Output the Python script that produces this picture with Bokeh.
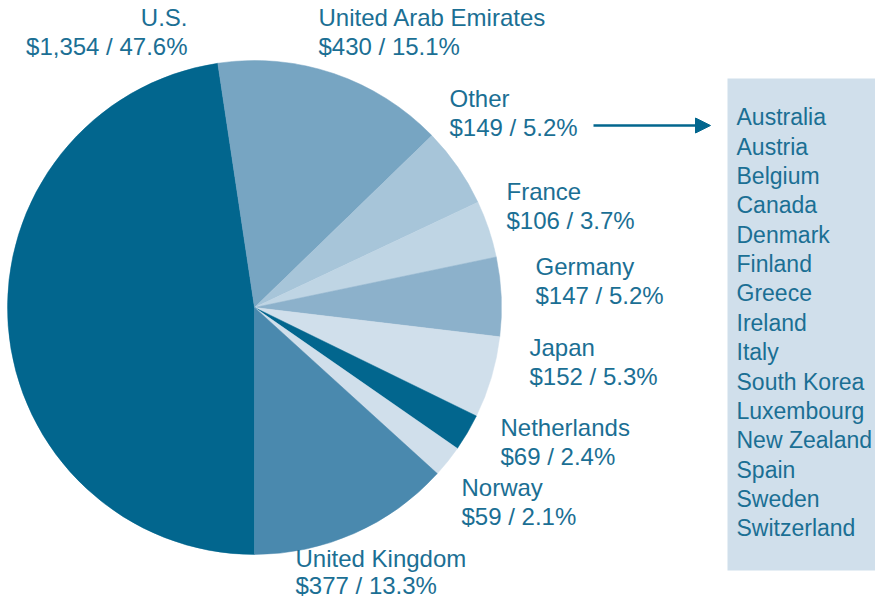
from bokeh.plotting import figure
from bokeh.models import Range1d, ColumnDataSource, Arrow, NormalHead
from bokeh.core.properties import value
from bokeh.embed import file_html
from bokeh.resources import INLINE
import math

# ---- data ----
countries = ["U.S.", "United Arab Emirates", "Other", "France", "Germany",
             "Japan", "Netherlands", "Norway", "United Kingdom"]
amounts = [1354, 430, 149, 106, 147, 152, 69, 59, 377]
percents = [47.6, 15.1, 5.2, 3.7, 5.2, 5.3, 2.4, 2.1, 13.3]
other_countries = ["Australia", "Austria", "Belgium", "Canada", "Denmark",
                   "Finland", "Greece", "Ireland", "Italy", "South Korea",
                   "Luxembourg", "New Zealand", "Spain", "Sweden", "Switzerland"]

# ---- style ----
slice_colors = ["#02668e", "#77a5c2", "#a7c5d9", "#bfd5e4", "#8cb1cb",
                "#d0dfeb", "#02668e", "#d0dfeb", "#4a89ae"]
TEXT_COLOR = "#1b6f94"
FONT = "Liberation Sans"
FS = "24px"
FS_LIST = "23px"

W, H = 875, 600
SHIFT_Y = 2      # content moved up a little so it fits the 600px height
TEXT_CORR = 8.5  # observed baseline offset of the svg text renderer

def Y(py):   # reference pixel row -> data y
    return H - (py - SHIFT_Y)

def TY(py):  # baseline row for text
    return Y(py - TEXT_CORR)

p = figure(width=W, height=H, output_backend="svg", toolbar_location=None,
           x_range=Range1d(0, W), y_range=Range1d(0, H),
           min_border=0, outline_line_color=None)
p.axis.visible = False
p.grid.visible = False
p.background_fill_color = "white"
p.border_fill_color = "white"

# ---- pie ----
total = sum(amounts)
starts, ends = [], []
cum = 0.0
for a in amounts:
    f0 = cum / total
    cum += a
    f1 = cum / total
    # clockwise from the bottom (270 deg)
    starts.append(math.radians(270 - f1 * 360))
    ends.append(math.radians(270 - f0 * 360))
CX, CY, R = 254, 309, 247
src = ColumnDataSource(dict(start=starts, end=ends, color=slice_colors))
p.wedge(x=CX, y=Y(CY), radius=R, start_angle="start", end_angle="end",
        fill_color="color", line_color="color", line_width=0.5, source=src)

# ---- labels ----
label_x = [187, 318, 449, 506, 535, 529, 500, 461, 295]
label_y1 = [27, 27, 108, 201, 276, 357, 437, 497, 568]
label_gap = [29.5] * 8 + [27.0]
label_align = ["right"] + ["left"] * 8
line2 = [f"${a:,} / {pc}%" for a, pc in zip(amounts, percents)]
lsrc = ColumnDataSource(dict(
    x=label_x, y1=[TY(v) for v in label_y1],
    y2=[TY(v + g) for v, g in zip(label_y1, label_gap)],
    name=countries, val=line2, align=label_align))
p.text(x="x", y="y1", text="name", text_align="align", text_baseline="alphabetic",
       text_font=value(FONT), text_font_size=FS, text_color=TEXT_COLOR, source=lsrc)
p.text(x="x", y="y2", text="val", text_align="align", text_baseline="alphabetic",
       text_font=value(FONT), text_font_size=FS, text_color=TEXT_COLOR, source=lsrc)

# ---- other box ----
BOX_L, BOX_R, BOX_T, BOX_B = 727, 890, 80, 572
p.quad(left=BOX_L, right=BOX_R, top=Y(BOX_T), bottom=Y(BOX_B),
       fill_color="#d0dfeb", line_color=None)
p.text(x=[736] * len(other_countries),
       y=[TY(127.3 + 29.36 * i) for i in range(len(other_countries))],
       text=other_countries, text_baseline="alphabetic",
       text_font=value(FONT), text_font_size=FS_LIST, text_color=TEXT_COLOR)

# ---- arrow ----
p.add_layout(Arrow(x_start=593, y_start=Y(127), x_end=710, y_end=Y(127),
                   line_color="#02668e", line_width=2.5,
                   end=NormalHead(size=15, fill_color="#02668e", line_color="#02668e")))

open("out.html", "w").write(file_html(p, INLINE))
